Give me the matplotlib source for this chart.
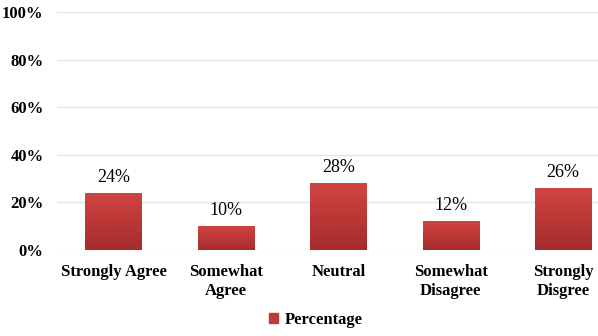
import matplotlib.pyplot as plt
import numpy as np
from matplotlib.colors import LinearSegmentedColormap

categories = ["Strongly Agree", "Somewhat\nAgree", "Neutral", "Somewhat\nDisagree", "Strongly\nDisgree"]
values = [24, 10, 28, 12, 26]
yticks = [0, 20, 40, 60, 80, 100]

plt.rcParams['font.family'] = ['Liberation Serif', 'DejaVu Serif']

fig = plt.figure(figsize=(5.98, 3.36), dpi=100)
# plot area runs past the right edge, as in the reference
ax = fig.add_axes([57.3 / 598, 86 / 336, 562 / 598, 238 / 336])

x = np.arange(len(categories))
bars = ax.bar(x, values, width=0.5, color="#c03a3a", zorder=2)

# vertical gradient on each bar
cmap = LinearSegmentedColormap.from_list("red", ["#a52c2c", "#d24343"])
grad = np.linspace(0, 1, 100).reshape(-1, 1)
for b in bars:
    x0, y0 = b.get_x(), b.get_y()
    w, h = b.get_width(), b.get_height()
    im = ax.imshow(grad, cmap=cmap, origin="lower", aspect="auto",
                   extent=[x0, x0 + w, y0, y0 + h], zorder=3)
    im.set_clip_path(b)

for xi, v in zip(x, values):
    ax.annotate(f"{v}%", (xi, v), xytext=(0, 5), textcoords="offset points",
                ha="center", va="bottom", fontsize=13, zorder=4)

ax.set_xlim(-0.5, len(categories) - 0.5)
ax.set_ylim(0, 100)
ax.set_yticks(yticks)
ax.set_yticklabels([f"{t}%" for t in yticks], fontsize=12, fontweight="bold")
ax.set_xticks(x)
ax.set_xticklabels(categories, fontsize=12, fontweight="bold", linespacing=1.25)
ax.tick_params(axis="y", length=0, pad=10)
ax.tick_params(axis="x", length=0, pad=10)
ax.grid(axis="y", color="#dce6f2", linewidth=1, zorder=0)
for s in ax.spines.values():
    s.set_visible(False)

handle = plt.Rectangle((0, 0), 1, 1, color="#c03a3a")
fig.legend([handle], ["Percentage"], loc="center", bbox_to_anchor=(316 / 598, 1 - 320 / 336),
           frameon=False, prop={"weight": "bold", "size": 12},
           handlelength=0.55, handleheight=0.55, handletextpad=0.4)

fig.savefig("out.png", dpi=100)
